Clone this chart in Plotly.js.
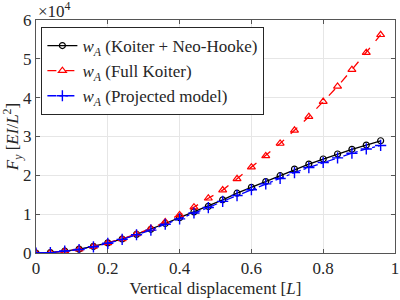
<!DOCTYPE html>
<html><head><meta charset="utf-8">
<script src="https://cdn.plot.ly/plotly-3.0.1.min.js"></script>
<style>html,body{margin:0;padding:0;background:#fff}#c{width:400px;height:300px}</style>
</head><body><div id="c"></div>
<script>
var xs = [0,0.04,0.08,0.12,0.16,0.20,0.24,0.28,0.32,0.36,0.40,0.44,0.48,0.52,0.56,0.60,0.64,0.68,0.72,0.76,0.80,0.84,0.88,0.92,0.96];
var koiterNeo = [0,0.01,0.05,0.10,0.17,0.26,0.36,0.48,0.61,0.76,0.91,1.06,1.20,1.37,1.54,1.69,1.84,1.99,2.16,2.29,2.42,2.55,2.67,2.78,2.89];
var fullKoiter = [0,0.01,0.05,0.10,0.17,0.26,0.36,0.49,0.63,0.80,0.98,1.18,1.41,1.62,1.91,2.21,2.50,2.82,3.16,3.51,3.90,4.29,4.72,5.16,5.62];
var projected = [0,0.01,0.05,0.09,0.16,0.25,0.35,0.47,0.59,0.74,0.88,1.03,1.17,1.33,1.48,1.63,1.78,1.92,2.07,2.20,2.33,2.45,2.57,2.68,2.77];
var names = ['<i>w</i><sub><i>A</i></sub> (Koiter + Neo-Hooke)','<i>w</i><sub><i>A</i></sub> (Full Koiter)','<i>w</i><sub><i>A</i></sub> (Projected model)'];
var xTicks = [0,0.2,0.4,0.6,0.8,1];
var xTickText = ['0','0.2','0.4','0.6','0.8','1'];
var yTicks = [0,1,2,3,4,5,6];

var F = 'Liberation Serif, DejaVu Serif, serif';
var C = '#262626';
var traces = [
 {x:xs, y:koiterNeo, name:names[0], mode:'lines+markers', line:{color:'#000',width:1.3},
  marker:{symbol:'circle-open',size:6,color:'#000',line:{width:1.2}}},
 {x:xs, y:fullKoiter, name:names[1], mode:'lines+markers', line:{color:'#ff0000',width:1.3,dash:'dash'},
  marker:{symbol:'triangle-up-open',size:7,color:'#ff0000',line:{width:1.2}}},
 {x:xs, y:projected, name:names[2], mode:'lines+markers', line:{color:'#0000ff',width:1.3,dash:'dashdot'},
  marker:{symbol:'cross-thin-open',size:8,color:'#0000ff',line:{width:1.4,color:'#0000ff'}}}
];
var layout = {
 width:400, height:300,
 margin:{l:36,r:5,t:20,b:47},
 paper_bgcolor:'#fff', plot_bgcolor:'#fff',
 font:{family:F,size:17,color:C},
 showlegend:true,
 legend:{x:0.015,y:0.97,xanchor:'left',yanchor:'top',bgcolor:'#fff',bordercolor:C,borderwidth:1,
   font:{family:F,size:17,color:C},tracegroupgap:0,itemwidth:30},
 xaxis:{range:[0,1],tickvals:xTicks,ticktext:xTickText,showgrid:true,gridcolor:'#e6e6e6',
   showline:true,linecolor:'#555',mirror:'ticks',ticks:'inside',ticklen:4,tickcolor:'#555',zeroline:false,
   title:{text:'Vertical displacement [<i>L</i>]',font:{family:F,size:17,color:C},standoff:4},
   tickfont:{family:F,size:17,color:C}},
 yaxis:{range:[0,6],tickvals:yTicks,showgrid:true,gridcolor:'#e6e6e6',
   showline:true,linecolor:'#555',mirror:'ticks',ticks:'inside',ticklen:4,tickcolor:'#555',zeroline:false,
   title:{text:'<i>F</i><sub><i>y</i></sub> [<i>EI</i>/<i>L</i><sup>2</sup>]',font:{family:F,size:17,color:C},standoff:6},
   tickfont:{family:F,size:17,color:C}},
 annotations:[{xref:'paper',yref:'paper',x:0,y:1,xanchor:'left',yanchor:'bottom',showarrow:false,
   text:'×10<sup>4</sup>',font:{family:F,size:17,color:C},yshift:-3}]
};
Plotly.newPlot('c',traces,layout,{displayModeBar:false,staticPlot:true});
</script></body></html>
